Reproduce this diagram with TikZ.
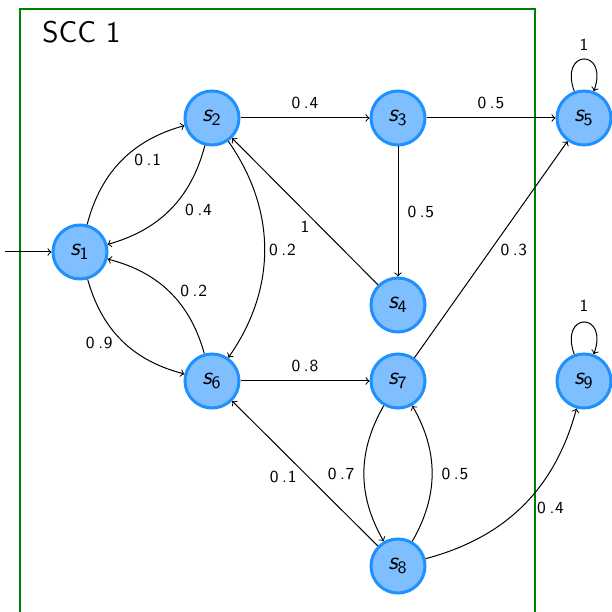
\documentclass[tikz,border=0pt]{standalone}
\usetikzlibrary{arrows}

\definecolor{nodefill}{RGB}{128,191,255}
\definecolor{nodeedge}{RGB}{30,144,255}
\definecolor{sccgreen}{RGB}{0,128,0}

% state label: slanted sans s with an upright index
\newcommand\stname[1]{{\slshape s}\textsubscript{\sffamily #1}}
% probability with the wide decimal point of the labels
\newcommand\prob[2]{#1\kern1.8bp.\kern0.4bp#2}

\begin{document}
\begin{tikzpicture}[x=0.5bp,y=0.5bp,auto,
  state/.style={circle, draw=nodeedge, fill=nodefill, line width=1.5bp,
    minimum size=27bp, inner sep=0pt,
    font=\fontsize{12.5}{14}\selectfont\sffamily},
  trans/.style={->, line width=0.5bp},
  lbl/.style={font=\fontsize{8.5}{10}\selectfont\sffamily, inner sep=4.5bp}]

\useasboundingbox (0,0) rectangle (612,612);

% strongly connected component
\draw[sccgreen, line width=1bp] (534.5,-10) -- (534.5,603) -- (20,603) -- (20,-10);
\node[anchor=base west, inner sep=0pt, font=\fontsize{15}{18}\selectfont\sffamily]
  (scc) at (42,569) {SCC 1};

% states
\node[state] (s1) at (80,360) {\stname{1}};
\node[state] (s2) at (212,494) {\stname{2}};
\node[state] (s3) at (398,494) {\stname{3}};
\node[state] (s4) at (398,307) {\stname{4}};
\node[state] (s5) at (584,494) {\stname{5}};
\node[state] (s6) at (212,231) {\stname{6}};
\node[state] (s7) at (398,231) {\stname{7}};
\node[state] (s8) at (398,46) {\stname{8}};
\node[state] (s9) at (584,231) {\stname{9}};

\coordinate (init) at (5,360);

% transitions
\draw[trans] (init) -- (s1);
\draw[trans] (s1) to[bend left=30] node[lbl,swap,pos=0.62,inner sep=2bp,xshift=-2bp] {\prob01} (s2);
\draw[trans] (s2) to[bend left=30] node[lbl,pos=0.4,inner sep=2.5bp] {\prob04} (s1);
\draw[trans] (s1) to[bend right=30] node[lbl,swap,pos=0.4,inner sep=3bp,xshift=3bp] {\prob09} (s6);
\draw[trans] (s6) to[bend right=30] node[lbl,swap,pos=0.4,inner sep=2.5bp,xshift=-2bp] {\prob02} (s1);
\draw[trans] (s2) to[bend left=35] node[lbl,inner sep=2bp] {\prob02} (s6);
\draw[trans] (s2) -- node[lbl] {\prob04} (s3);
\draw[trans] (s3) -- node[lbl] {\prob05} (s5);
\draw[trans] (s3) -- node[lbl] {\prob05} (s4);
\draw[trans] (s4) -- node[lbl,anchor=north] {1} (s2);
\draw[trans] (s7) -- node[lbl,anchor=west] {\prob03} (s5);
\draw[trans] (s6) -- node[lbl] {\prob08} (s7);
\draw[trans] (s7) to[bend right=30] node[lbl,swap] {\prob07} (s8);
\draw[trans] (s8) to[bend right=30] node[lbl,swap] {\prob05} (s7);
\draw[trans] (s8) -- node[lbl,anchor=north,pos=0.65,yshift=-5bp] {\prob01} (s6);
\draw[trans] (s8) to[bend right=30] node[lbl,swap,pos=0.56,inner sep=2.5bp] {\prob04} (s9);

% self loops
\draw[trans] (s5) to[out=110,in=70,looseness=6] node[lbl,inner sep=4bp] {1} (s5);
\draw[trans] (s9) to[out=110,in=70,looseness=6] node[lbl,inner sep=5bp] {1} (s9);
\end{tikzpicture}
\end{document}
